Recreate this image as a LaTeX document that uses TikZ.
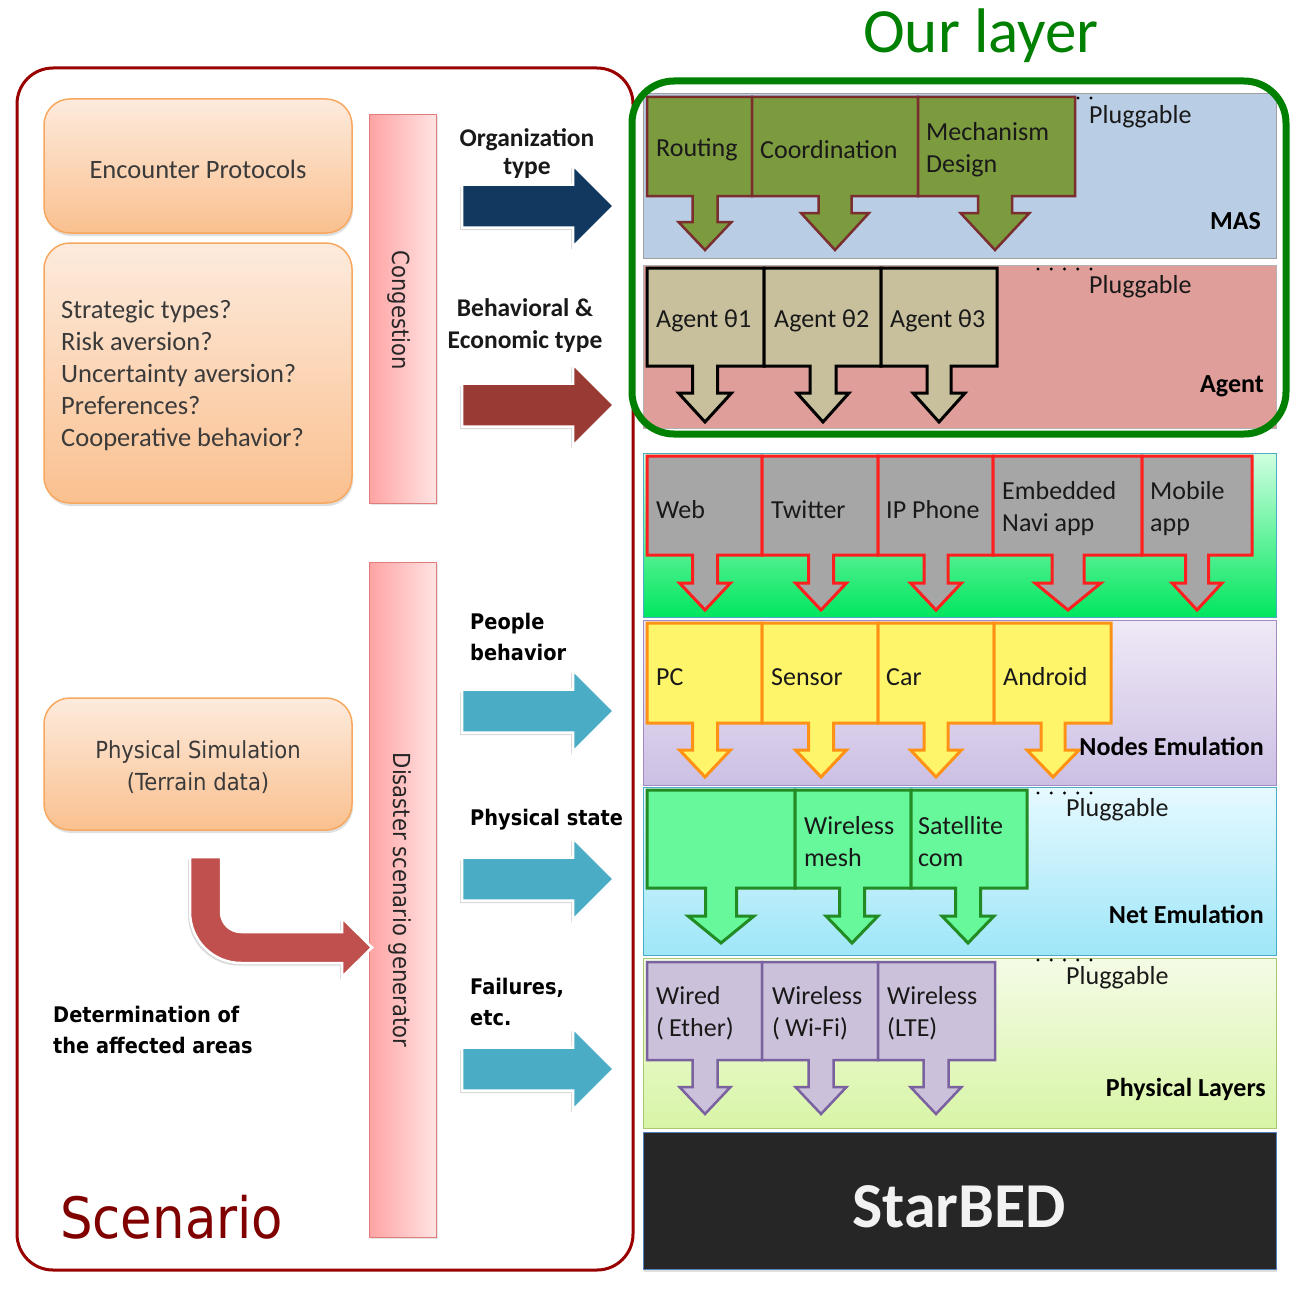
\documentclass[tikz,border=0pt]{standalone}
\usepackage{fontspec}
\setmainfont{Carlito}
\newfontfamily\luc[FakeStretch=0.9]{DejaVu Sans}
\usetikzlibrary{shadows}
\definecolor{scenred}{HTML}{990000}
\definecolor{scentext}{HTML}{800000}
\definecolor{orangetop}{HTML}{FDEBDD}
\definecolor{orangebot}{HTML}{FAC08F}
\definecolor{orangeline}{HTML}{F8A85E}
\definecolor{pinkL}{HTML}{FFA3A3}
\definecolor{pinkR}{HTML}{FFE3E3}
\definecolor{pinkline}{HTML}{E07C7C}
\definecolor{orgblue}{HTML}{123860}
\definecolor{behred}{HTML}{9A3A35}
\definecolor{skyblue}{HTML}{4BACC6}
\definecolor{curvred}{HTML}{C0504D}
\definecolor{masblue}{HTML}{B9CDE5}
\definecolor{agentpink}{HTML}{DF9E99}
\definecolor{appstop}{HTML}{D0FFE0}
\definecolor{appsbot}{HTML}{00E65E}
\definecolor{appsline}{HTML}{4BACC6}
\definecolor{nodestop}{HTML}{EFE9F6}
\definecolor{nodesbot}{HTML}{CCBFE4}
\definecolor{nodesline}{HTML}{9F8CC0}
\definecolor{nettop}{HTML}{E6F9FF}
\definecolor{netbot}{HTML}{9EE6F8}
\definecolor{netline}{HTML}{4BACC6}
\definecolor{phystop}{HTML}{F4FBE6}
\definecolor{physbot}{HTML}{D8F5A6}
\definecolor{physline}{HTML}{A8C870}
\definecolor{stargray}{HTML}{262626}
\definecolor{starline}{HTML}{4F81BD}
\definecolor{masgreen}{HTML}{7C9A3E}
\definecolor{masline}{HTML}{7A2E2E}
\definecolor{agentkhaki}{HTML}{C8C09C}
\definecolor{appgray}{HTML}{A6A6A6}
\definecolor{appred}{HTML}{FF1F1F}
\definecolor{nodeyellow}{HTML}{FFF56A}
\definecolor{nodeorange}{HTML}{FF9214}
\definecolor{netgreen}{HTML}{66F89A}
\definecolor{netdark}{HTML}{238B23}
\definecolor{physpurple}{HTML}{CCC1DA}
\definecolor{physdark}{HTML}{7A62A0}
\definecolor{ourgreen}{HTML}{008000}
\definecolor{boxtext}{HTML}{3A3A3A}

\newcommand\CalloutRow[5]{%
  \foreach \xa/\xb/\tx/\sw/\hw/\yh in {#5}{%
    \path[#1] (\xa,#2) -- (\xb,#2) -- (\xb,#3) -- (\tx+\sw,#3) -- (\tx+\sw,\yh)
      -- (\tx+\hw,\yh) -- (\tx,#4) -- (\tx-\hw,\yh) -- (\tx-\sw,\yh)
      -- (\tx-\sw,#3) -- (\xa,#3) -- cycle;
  }%
}

\begin{document}
\begin{tikzpicture}[x=1pt,y=-1pt,
  orangebox/.style={rounded corners=26pt, draw=orangeline, line width=1.5pt,
    top color=orangetop, bottom color=orangebot,
    drop shadow={opacity=0.25, shadow xshift=1pt, shadow yshift=-3pt}},
  pinkbar/.style={draw=pinkline, line width=1pt, left color=pinkL, right color=pinkR,
    drop shadow={opacity=0.2, shadow xshift=2pt, shadow yshift=-2pt}},
  bigarrow/.style={draw=white, line width=2.5pt, line join=miter,
    drop shadow={opacity=0.3, shadow xshift=-2pt, shadow yshift=-2.5pt}},
  masbox/.style={fill=masgreen, draw=masline, line width=2.5pt, line join=miter},
  agentbox/.style={fill=agentkhaki, draw=black, line width=3pt, line join=miter},
  appbox/.style={fill=appgray, draw=appred, line width=3pt, line join=miter},
  nodebox/.style={fill=nodeyellow, draw=nodeorange, line width=3pt, line join=miter},
  netbox/.style={fill=netgreen, draw=netdark, line width=3pt, line join=miter},
  physbox/.style={fill=physpurple, draw=physdark, line width=2.5pt, line join=miter},
  ltxt/.style={font=\fontsize{26}{32}\selectfont, inner sep=0pt, align=left, text=black!90, anchor=west},
  btxt/.style={font=\bfseries\fontsize{26}{32}\selectfont, inner sep=0pt, text=black, anchor=east},
  otxt/.style={font=\fontsize{26.5}{32}\selectfont, inner sep=0pt, text=boxtext},
  ltitle/.style={font=\bfseries\fontsize{25.5}{32}\selectfont, inner sep=0pt, align=center, text=black!90},
  lucb/.style={font=\luc\bfseries\fontsize{21.5}{31}\selectfont, inner sep=0pt, align=left, text=black, anchor=west},
  dotmark/.style={fill=black}
]
\useasboundingbox (0,0) rectangle (1302,1290);
\fill[white] (0,0) rectangle (1302,1290);

% ---------------- Scenario side ----------------
\draw[scenred, line width=3pt, rounded corners=36pt] (17,68) rectangle (633,1270);

\path[orangebox] (44,99) rectangle (352,233);
\path[orangebox] (44,243) rectangle (352,503);
\path[orangebox] (44,698) rectangle (352,830);

\node[otxt] (encounter) at (198,169) {Encounter Protocols};
\node[otxt, anchor=west, align=left] (strategic) at (61,376)
  {Strategic types?\\Risk aversion?\\Uncertainty aversion?\\Preferences?\\Cooperative behavior?};
\node[otxt, font=\luc\fontsize{23.5}{32}\selectfont, align=center] (physim) at (198,767)
  {Physical Simulation\\(Terrain data)};

\path[pinkbar] (369,114) rectangle (436,503);
\path[pinkbar] (369,562) rectangle (436,1237);
\node[font=\luc\fontsize{23.5}{28}\selectfont, rotate=-90, inner sep=0pt, text=black!85] (congestion) at (399,310) {Congestion};
\node[font=\luc\fontsize{23.5}{28}\selectfont, rotate=-90, inner sep=0pt, text=black!85] (disaster) at (400,900) {Disaster scenario generator};

% big block arrows
\foreach \cy/\col in {206/orgblue, 405/behred, 711/skyblue, 879/skyblue, 1069/skyblue}{
  \path[bigarrow, fill=\col] (462,\cy-21.5) -- (573,\cy-21.5) -- (573,\cy-41) -- (614,\cy)
    -- (573,\cy+41) -- (573,\cy+21.5) -- (462,\cy+21.5) -- cycle;
}
\node[ltitle] (orgA) at (527,140) {Organization};
\node[ltitle] (orgB) at (527,168) {type};
\node[ltitle] (behav) at (525,326) {Behavioral \&\\Economic type};
\node[lucb] (people) at (470,637) {People\\behavior};
\node[lucb] (physstate) at (470,820) {Physical state};
\node[lucb] (failures) at (470,1002) {Failures,\\etc.};

% curved arrow
\path[bigarrow, fill=curvred] (190,857) -- (221,857) -- (221,912)
  .. controls (221,923.05) and (229.95,932) .. (241,932)
  -- (342,932) -- (342,918) -- (372,947.5) -- (342,977) -- (342,963) -- (241,963)
  .. controls (212.8,963) and (190,940.2) .. (190,912) -- cycle;

\node[lucb] (determ) at (53,1030) {Determination of\\the affected areas};
\node[font=\luc\fontsize{57}{60}\selectfont, text=scentext, inner sep=0pt, anchor=base west] (scenario) at (60,1238) {Scenario};

% ---------------- Layers ----------------
\path[draw=gray!75, line width=1pt, fill=masblue] (643,94) rectangle (1276,258);
\path[draw=gray!60, line width=1pt, fill=agentpink] (643,265) rectangle (1276,428);
\path[draw=appsline, line width=1pt, top color=appstop, bottom color=appsbot] (643,453) rectangle (1276,617);
\path[draw=nodesline, line width=1pt, top color=nodestop, bottom color=nodesbot] (643,620) rectangle (1276,785);
\path[draw=netline, line width=1pt, top color=nettop, bottom color=netbot] (643,787) rectangle (1276,955);
\path[draw=physline, line width=1pt, top color=phystop, bottom color=physbot] (643,958) rectangle (1276,1128);
\path[draw=starline, line width=1pt, fill=stargray,
  drop shadow={opacity=0.25, shadow xshift=1pt, shadow yshift=-3pt}] (643,1132) rectangle (1276,1269);

% dotted leaders
\foreach \xx in {1078,1091}{\fill[dotmark] (\xx,98) circle (1.6pt);}
\foreach \yy in {269,793,960}{
  \foreach \xx in {1038,1051.25,1064.5,1077.75,1091}{
    \fill[dotmark] (\xx,\yy) circle (1.6pt);
  }
}

% callout rows
\CalloutRow{masbox}{97}{196}{250}{647/752/705/12.5/26.5/222, 752/918/835/16.5/34/213, 918/1075/995/17/34.5/213}
\CalloutRow{agentbox}{268}{366}{422}{647/764/705/12.5/26.5/393, 764/881/823/13/26/393, 881/997/939/12/26/393}
\CalloutRow{appbox}{456}{555}{610}{647/762/705/12.5/25.5/583, 762/878/821/12.5/25.5/583, 878/993/936/12/25.5/583, 993/1142/1068/16/33/583, 1142/1252/1197/11.5/25/583}
\CalloutRow{nodebox}{623}{723}{777}{647/762/705/12.5/25.5/750, 762/878/821/12.5/25.5/750, 878/994/936/12/25.5/750, 994/1111/1053/12/26/750}
\CalloutRow{netbox}{790}{888}{943}{647/795/721/15.5/33/916, 795/911/852/12.5/26/916, 911/1027/968/12.5/26/916}
\CalloutRow{physbox}{962}{1060}{1114}{647/762/705/12.5/25.5/1087, 762/878/821/12.5/25.5/1087, 878/995/936/12.5/25.5/1087}

% MAS texts
\node[ltxt] (routing) at (656,150) {Routing};
\node[ltxt] (coord) at (760,150) {Coordination};
\node[ltxt] (mech) at (926,150) {Mechanism\\Design};
\node[ltxt] (plugA) at (1089,117) {Pluggable};
\node[btxt] (maslbl) at (1261,221) {MAS};
% Agent texts
\node[ltxt] (agA) at (656,321) {Agent θ1};
\node[ltxt] (agB) at (774,321) {Agent θ2};
\node[ltxt] (agC) at (890,321) {Agent θ3};
\node[ltxt] (plugB) at (1089,287) {Pluggable};
\node[btxt] (agentlbl) at (1264,386) {Agent};
% Apps
\node[ltxt] (web) at (656,510) {Web};
\node[ltxt] (twitter) at (771,510) {Twitter};
\node[ltxt] (ipphone) at (886,510) {IP Phone};
\node[ltxt] (navi) at (1002,509) {Embedded\\Navi app};
\node[ltxt] (mobile) at (1150,509) {Mobile\\app};
% Nodes
\node[ltxt] (pc) at (656,677) {PC};
\node[ltxt] (sensor) at (771,677) {Sensor};
\node[ltxt] (car) at (886,677) {Car};
\node[ltxt] (android) at (1003,677) {Android};
\node[btxt] (nodeslbl) at (1264,746) {Nodes Emulation};
% Net
\node[ltxt] (mesh) at (804,842) {Wireless\\mesh};
\node[ltxt] (sat) at (918,842) {Satellite\\com};
\node[ltxt] (plugC) at (1066,810) {Pluggable};
\node[btxt] (netlbl) at (1264,914) {Net Emulation};
% Physical
\node[ltxt] (wired) at (656,1013) {Wired\\(\kern5pt Ether)};
\node[ltxt] (wifi) at (772,1013) {Wireless\\(\kern5pt Wi-Fi)};
\node[ltxt] (lte) at (887,1013) {Wireless\\(LTE)};
\node[ltxt] (plugD) at (1066,978) {Pluggable};
\node[btxt] (physlbl) at (1266,1089) {Physical Layers};
% StarBED
\node[font=\bfseries\fontsize{64}{70}\selectfont, text=white!95!black, inner sep=0pt] (starbed) at (959,1207) {StarBED};

% Our layer
\draw[ourgreen, line width=7pt, rounded corners=42pt] (632,81) rectangle (1286,434);
\node[font=\fontsize{63}{70}\selectfont, text=ourgreen, inner sep=0pt] (ourlayer) at (981,36) {Our layer};
\end{tikzpicture}
\end{document}
